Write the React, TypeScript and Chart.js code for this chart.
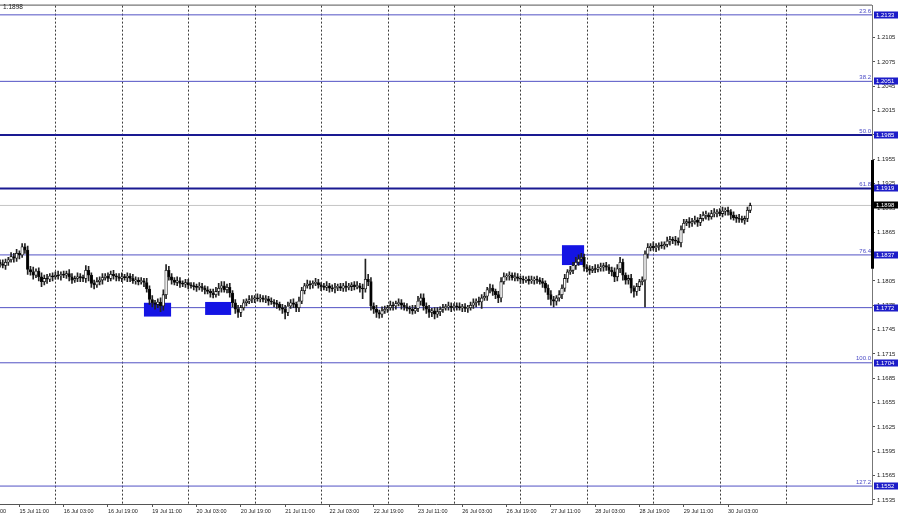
import React, { useEffect, useRef } from "react";
import { Chart, registerables } from "chart.js";
Chart.register(...registerables);

// ---- data (prices expressed in pips above BASE) ----
const BASE = 1.17;
const PIP = 0.0001;
const FIRST_OPEN = 128;
const closePips = [
  126,124,128,131,135,133,139,137,147,143,
  119,116,112,117,110,104,108,107,111,110,
  112,111,113,112,114,110,106,108,110,109,
  108,118,112,102,100,104,106,109,111,108,
  113,111,110,108,110,109,111,108,105,106,
  104,105,103,95,82,78,76,79,74,88,
  118,110,106,103,105,102,101,103,100,99,
  98,97,98,96,94,92,90,88,92,96,
  99,94,97,90,78,70,66,72,78,80,
  82,83,84,83,84,82,83,80,79,77,
  76,72,70,66,74,78,76,72,80,93,
  99,101,100,102,103,100,98,97,99,96,
  95,97,98,96,99,97,98,100,98,99,
  96,95,107,104,74,70,66,64,68,70,
  72,75,74,77,78,75,73,71,70,68,
  71,80,84,74,70,66,68,64,67,70,
  72,73,74,72,74,73,72,73,71,72,
  75,78,80,79,84,86,94,96,92,88,
  84,104,110,111,112,109,110,108,107,106,
  107,105,106,107,106,104,102,96,88,82,
  80,84,88,96,108,116,118,124,128,132,
  134,122,120,118,120,119,121,122,124,122,
  118,116,110,120,128,112,106,108,96,92,
  98,104,106,138,146,148,146,147,149,148,
  150,154,156,155,154,152,168,176,178,176,
  178,180,177,182,186,186,184,188,189,190,
  188,191,192,190,186,183,182,181,180,182,
  192,198,
];
const highWick = [
  3,5,4,3,5,4,5,3,4,4, 5,4,6,3,4,5,4,5,3,4, 4,5,3,4,3,5,4,3,5,4,
  3,6,5,3,4,5,4,5,3,4, 4,5,3,4,5,3,4,3,5,4, 3,4,3,5,4,5,3,4,5,6,
  7,5,4,3,5,4,3,4,4,3, 4,3,5,4,3,4,3,5,5,6, 5,5,4,5,3,4,5,3,4,3,
  5,4,3,5,4,3,4,3,4,3, 4,3,4,5,5,4,5,3,5,4, 3,5,4,3,5,4,3,4,5,3,
  4,5,3,4,3,5,4,3,4,5, 3,5,25,6,5,4,5,3,5,4, 3,5,4,3,5,4,3,4,3,5,
  4,6,5,5,4,5,3,4,5,3, 4,3,5,4,3,4,5,3,4,3, 4,5,3,5,4,5,3,5,4,3,
  4,5,5,3,4,3,5,4,3,4, 3,4,5,3,4,3,4,3,4,5, 4,3,5,4,5,3,5,4,6,5,
  5,4,3,4,3,5,4,5,3,4, 3,4,5,5,6,4,3,4,5,3, 4,3,4,4,5,3,5,4,3,4,
  3,5,4,3,5,4,5,5,3,5, 4,5,3,5,4,5,3,4,5,3, 4,5,3,4,3,4,3,5,4,3,
  4,3,
];
const lowWick = [
  4,3,5,4,3,5,4,5,3,4, 6,4,5,3,5,6,4,5,3,5, 3,4,5,3,4,5,4,3,4,5,
  4,5,7,5,5,3,4,5,3,4, 3,4,5,3,4,3,5,4,3,4, 4,3,5,4,6,5,6,4,7,5,
  5,4,5,3,4,5,3,4,5,3, 4,5,3,4,5,3,5,4,3,5, 5,3,4,5,5,5,6,5,3,4,
  3,4,5,3,4,3,4,5,3,4, 5,3,5,8,4,3,4,5,5,3, 4,3,5,4,3,4,5,3,4,5,
  3,5,4,3,4,5,3,5,4,3, 5,12,4,5,5,5,6,5,4,3, 4,3,5,4,3,5,4,3,5,4,
  3,4,5,5,5,6,5,6,4,5, 4,3,4,5,3,4,3,5,4,5, 3,4,5,4,8,3,5,4,5,5,
  6,5,3,4,5,3,4,3,5,4, 3,4,3,5,4,3,5,5,6,7, 7,5,4,5,4,5,3,4,5,4,
  3,5,4,5,3,4,3,4,5,4, 4,5,6,5,5,6,5,5,6,7, 5,5,4,33,5,4,3,5,4,3,
  4,3,5,4,5,3,5,4,3,5, 4,3,5,4,3,5,4,3,4,5, 3,4,5,4,5,3,5,4,3,5,
  4,3,
];

const fibLevels = [1.2133, 1.2051, 1.1985, 1.1919, 1.1837, 1.1772, 1.1704, 1.1552];
const fibNames = ["23.6", "38.2", "50.0", "61.8", "76.4", "", "100.0", "127.2"];
const fibWidths = [1, 1, 2, 2, 1, 1, 1, 1];
const currentPrice = 1.1898;

const priceTicks = [
  1.1535, 1.1565, 1.1595, 1.1625, 1.1655, 1.1685, 1.1715, 1.1745, 1.1775, 1.1805,
  1.1835, 1.1865, 1.1895, 1.1925, 1.1955, 1.1985, 1.2015, 1.2045, 1.2075, 1.2105,
];
const timeTickBars = [7, 23, 39, 55, 71, 87, 103, 119, 135, 151, 167, 183, 199, 215, 231, 247, 263];
const timeTickLabels = [
  "15 Jul 11:00", "16 Jul 03:00", "16 Jul 19:00", "19 Jul 11:00", "20 Jul 03:00", "20 Jul 19:00",
  "21 Jul 11:00", "22 Jul 03:00", "22 Jul 19:00", "23 Jul 11:00", "26 Jul 03:00", "26 Jul 19:00",
  "27 Jul 11:00", "28 Jul 03:00", "28 Jul 19:00", "29 Jul 11:00", "30 Jul 03:00",
];
const cutLabelBar = -9;
const cutLabelText = "14 Jul 19:00";
const daySeparators = [20, 44, 68, 92, 116, 140, 164, 188, 212, 236, 260, 284];

const rectStartBar = [52, 74.1, 203];
const rectEndBar = [61.8, 83.5, 211];
const rectTop = [1.1778, 1.1779, 1.1849];
const rectBottom = [1.1761, 1.1763, 1.18245];

const axisMarker = [1.1954, 1.182];

const X_MIN = 0;
const X_MAX = 315;
const Y_MIN = 1.15299;
const Y_MAX = 1.21444;

const FONT = "'Liberation Sans', Arial, sans-serif";

const toPrice = (p: number) => BASE + p * PIP;

export default function App() {
  const ref = useRef<HTMLCanvasElement | null>(null);

  useEffect(() => {
    if (!ref.current) return;
    const opens = closePips.map((c, i) => (i === 0 ? FIRST_OPEN : closePips[i - 1]));
    const bodyData = closePips.map((c, i) => ({ x: i, y: [toPrice(opens[i]), toPrice(c)] }));
    const bodyColors = closePips.map((c, i) => (c >= opens[i] ? "#ffffff" : "#000000"));
    const wickData = closePips.map((c, i) => ({
      x: i,
      y: [toPrice(Math.min(c, opens[i]) - lowWick[i]), toPrice(Math.max(c, opens[i]) + highWick[i])],
    }));

    const fibDatasets = fibLevels.map((lv, k) => ({
      type: "line" as const,
      data: [{ x: X_MIN, y: lv }, { x: X_MAX, y: lv }],
      borderColor: fibWidths[k] > 1 ? "#1a1a92" : "#5252c4",
      borderWidth: fibWidths[k],
      pointRadius: 0,
      xAxisID: "x",
      yAxisID: "y",
    }));

    const overlay = {
      id: "overlay",
      beforeDatasetsDraw(chart: any) {
        const { ctx, chartArea } = chart;
        const xs = chart.scales.x;
        ctx.save();
        ctx.strokeStyle = "#3c3c3c";
        ctx.lineWidth = 1;
        ctx.setLineDash([2, 2]);
        daySeparators.forEach((b) => {
          const px = Math.round(xs.getPixelForValue(b)) + 0.5;
          if (px > chartArea.right) return;
          ctx.beginPath();
          ctx.moveTo(px, chartArea.top);
          ctx.lineTo(px, chartArea.bottom);
          ctx.stroke();
        });
        ctx.restore();
      },
      beforeDatasetDraw(chart: any, args: any) {
        if (args.index !== 1) return;
        const { ctx } = chart;
        const xs = chart.scales.x;
        const ys = chart.scales.y;
        ctx.save();
        ctx.fillStyle = "#1414e4";
        rectStartBar.forEach((s, k) => {
          const x0 = xs.getPixelForValue(s);
          const x1 = xs.getPixelForValue(rectEndBar[k]);
          const y0 = ys.getPixelForValue(rectTop[k]);
          const y1 = ys.getPixelForValue(rectBottom[k]);
          ctx.fillRect(x0, y0, x1 - x0, y1 - y0);
        });
        ctx.restore();
      },
      afterDraw(chart: any) {
        const { ctx, chartArea } = chart;
        const xs = chart.scales.x;
        const ys = chart.scales.y;
        ctx.save();
        ctx.strokeStyle = "#555";
        ctx.lineWidth = 1;
        ctx.beginPath();
        ctx.moveTo(0, chartArea.top - 0.5);
        ctx.lineTo(chartArea.right, chartArea.top - 0.5);
        ctx.stroke();
        ctx.fillStyle = "#000";
        const m0 = ys.getPixelForValue(axisMarker[0]);
        const m1 = ys.getPixelForValue(axisMarker[1]);
        ctx.fillRect(chartArea.right - 1, m0, 3, m1 - m0);
        ctx.font = `6px ${FONT}`;
        ctx.textAlign = "right";
        ctx.textBaseline = "bottom";
        ctx.fillStyle = "#4a4ac6";
        fibLevels.forEach((lv, k) => {
          if (!fibNames[k]) return;
          const py = ys.getPixelForValue(lv);
          ctx.fillText(fibNames[k], chartArea.right - 1, py - 1);
        });
        ctx.textAlign = "left";
        ctx.textBaseline = "middle";
        const drawBox = (price: number, bg: string) => {
          const py = Math.round(ys.getPixelForValue(price));
          ctx.fillStyle = bg;
          ctx.fillRect(chartArea.right + 2, py - 3.5, 24, 7);
          ctx.fillStyle = "#fff";
          ctx.fillText(price.toFixed(4), chartArea.right + 4, py + 0.5);
        };
        fibLevels.forEach((lv) => drawBox(lv, "#1c1cc8"));
        drawBox(currentPrice, "#000");
        ctx.fillStyle = "#222";
        ctx.textAlign = "left";
        ctx.font = `6.5px ${FONT}`;
        ctx.fillText("1.1898", 3, 7);
        ctx.font = `5.5px ${FONT}`;
        ctx.textBaseline = "top";
        ctx.fillText(cutLabelText, xs.getPixelForValue(cutLabelBar) + 1, chartArea.bottom + 5);
        ctx.restore();
      },
    };

    const chart = new Chart(ref.current, {
      type: "bar",
      data: {
        datasets: [
          {
            type: "bar",
            data: bodyData as any,
            backgroundColor: bodyColors,
            borderColor: "#111",
            borderWidth: 0.8,
            borderSkipped: false,
            barThickness: 2.6,
            minBarLength: 1,
            grouped: false,
            xAxisID: "x",
            yAxisID: "y",
          } as any,
          {
            type: "bar",
            data: wickData as any,
            backgroundColor: "#222",
            borderWidth: 0,
            barThickness: 1,
            grouped: false,
            xAxisID: "x",
            yAxisID: "y",
          } as any,
          {
            type: "line",
            data: [{ x: X_MIN, y: currentPrice }, { x: X_MAX, y: currentPrice }],
            borderColor: "#c4c4c4",
            borderWidth: 1,
            pointRadius: 0,
            xAxisID: "x",
            yAxisID: "y",
          } as any,
          ...(fibDatasets as any),
        ],
      },
      options: {
        animation: false,
        responsive: false,
        maintainAspectRatio: false,
        layout: { padding: { top: 3, left: 0, right: 0, bottom: 0 } },
        plugins: { legend: { display: false }, tooltip: { enabled: false } },
        scales: {
          x: {
            type: "linear",
            offset: false,
            min: X_MIN,
            max: X_MAX,
            position: "bottom",
            afterBuildTicks: (s: any) => {
              s.ticks = timeTickBars.map((v) => ({ value: v }));
            },
            afterFit: (s: any) => {
              s.height = 15;
            },
            ticks: {
              autoSkip: false,
              maxRotation: 0,
              minRotation: 0,
              align: "start",
              padding: 1,
              color: "#222",
              font: { size: 5.5, family: FONT },
              callback: (v: any) => {
                const k = timeTickBars.indexOf(Number(v));
                return k >= 0 ? timeTickLabels[k] : "";
              },
            },
            grid: { offset: false, drawOnChartArea: false, drawTicks: true, tickLength: 3, color: "#555" },
            border: { color: "#555", width: 1 },
          },
          y: {
            type: "linear",
            position: "right",
            min: Y_MIN,
            max: Y_MAX,
            afterBuildTicks: (s: any) => {
              s.ticks = priceTicks.map((v) => ({ value: v }));
            },
            afterFit: (s: any) => {
              s.width = 28;
            },
            ticks: {
              autoSkip: false,
              padding: 2,
              color: "#222",
              font: { size: 6, family: FONT },
              callback: (v: any) => Number(v).toFixed(4),
            },
            grid: { drawOnChartArea: false, drawTicks: true, tickLength: 3, color: "#555" },
            border: { color: "#777", width: 1 },
          },
        },
      } as any,
      plugins: [overlay],
    });
    return () => chart.destroy();
  }, []);

  return (
    <div style={{ position: "fixed", left: 0, top: 0, width: 900, height: 519, background: "#fff" }}>
      <canvas ref={ref} width={900} height={519} style={{ width: 900, height: 519, display: "block" }} />
    </div>
  );
}
